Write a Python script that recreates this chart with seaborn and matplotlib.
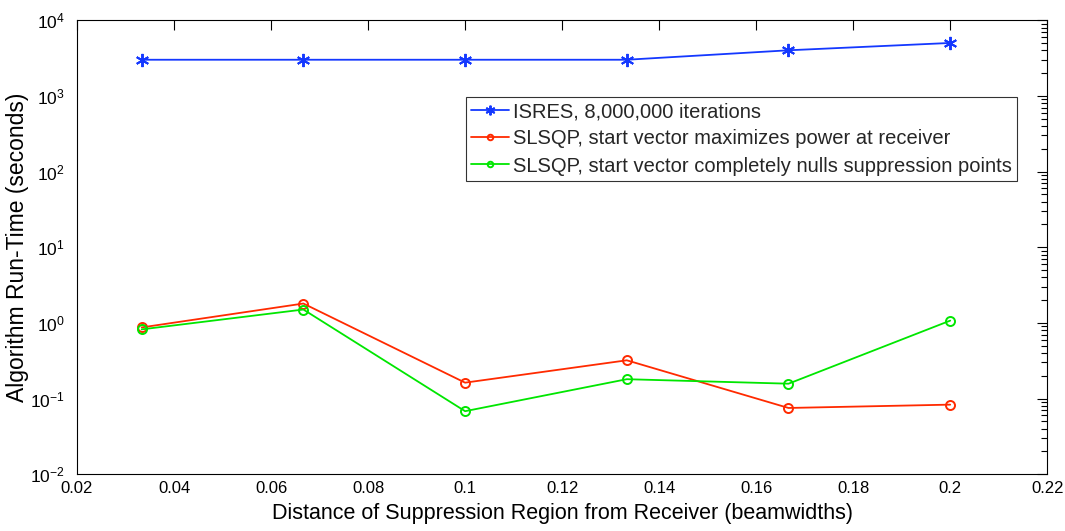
import numpy as np
import pandas as pd
import matplotlib
matplotlib.use("Agg")
import matplotlib.pyplot as plt
import seaborn as sns
from matplotlib.ticker import LogLocator, FixedLocator, FixedFormatter, LogFormatterMathtext

# Distance of the suppression region from the receiver (beamwidths)
distance = [1/30, 2/30, 3/30, 4/30, 5/30, 6/30]

# Run-times in seconds
isres_time = [3000, 3000, 3000, 3000, 4000, 5000]
slsqp_max_power = [0.87, 1.80, 0.162, 0.32, 0.075, 0.083]
slsqp_nulls = [0.82, 1.50, 0.068, 0.18, 0.157, 1.07]

series_names = [
    "ISRES, 8,000,000 iterations",
    "SLSQP, start vector maximizes power at receiver",
    "SLSQP, start vector completely nulls suppression points",
]
series_colors = ["#1438ff", "#ff2a00", "#00e600"]
series_markers = [(6, 2, 0), "o", "o"]

x_ticks = [0.02, 0.04, 0.06, 0.08, 0.1, 0.12, 0.14, 0.16, 0.18, 0.2, 0.22]
x_tick_labels = ["0.02", "0.04", "0.06", "0.08", "0.1", "0.12", "0.14",
                 "0.16", "0.18", "0.2", "0.22"]

sns.set_theme(style="white")
plt.rcParams["font.family"] = ["Liberation Sans", "DejaVu Sans"]
plt.rcParams["mathtext.fontset"] = "custom"
plt.rcParams["mathtext.rm"] = "Liberation Sans"
plt.rcParams["mathtext.it"] = "Liberation Sans"

fig = plt.figure(figsize=(10.65, 5.31), dpi=100)
ax = fig.add_axes([0.0723, 0.107, 0.911, 0.855])

for name, vals, color, marker in zip(series_names,
                                     [isres_time, slsqp_max_power, slsqp_nulls],
                                     series_colors, series_markers):
    d = pd.DataFrame({"distance": distance, "time": vals})
    sns.lineplot(data=d, x="distance", y="time", ax=ax, color=color,
                 marker=marker, markersize=6.5 if marker == "o" else 9.5,
                 markerfacecolor="none", markeredgecolor=color,
                 markeredgewidth=1.4, linewidth=1.3, label=name)

ax.set_yscale("log")
ax.set_xlim(0.02, 0.22)
ax.set_ylim(1e-2, 1e4)
ax.xaxis.set_major_locator(FixedLocator(x_ticks))
ax.xaxis.set_major_formatter(FixedFormatter(x_tick_labels))
ax.yaxis.set_major_locator(LogLocator(base=10, numticks=10))
ax.yaxis.set_minor_locator(LogLocator(base=10, subs=np.arange(2, 10), numticks=20))
ax.yaxis.set_major_formatter(LogFormatterMathtext())
ax.xaxis.get_offset_text().set_visible(False)
ax.yaxis.get_offset_text().set_visible(False)

ax.tick_params(which="both", direction="in", top=True, right=True,
               labelsize=12, colors="black")
ax.tick_params(which="major", length=7, width=0.8)
ax.tick_params(which="minor", length=4, width=0.8)
ax.tick_params(axis="x", pad=5, labelsize=12)
ax.tick_params(axis="y", pad=9, labelsize=12.5)
for s in ax.spines.values():
    s.set_color("black")
    s.set_linewidth(0.8)

ax.set_xlabel("Distance of Suppression Region from Receiver (beamwidths)",
              fontsize=15.5, color="black", labelpad=5)
ax.set_ylabel("Algorithm Run-Time (seconds)", fontsize=16.5, color="black")
ax.yaxis.set_label_coords(-0.049, 0.5)

leg = ax.legend(loc="upper left", bbox_to_anchor=(0.401, 0.830), fontsize=14.5,
                frameon=True, fancybox=False, borderpad=0.25, labelspacing=0.4,
                handlelength=1.9, handletextpad=0.2, borderaxespad=0)
leg.get_frame().set_edgecolor("black")
leg.get_frame().set_linewidth(0.8)
for h in leg.legend_handles:
    h.set_markersize(4 if h.get_marker() == "o" else 7)

fig.savefig("out.png", dpi=100, facecolor="white")
